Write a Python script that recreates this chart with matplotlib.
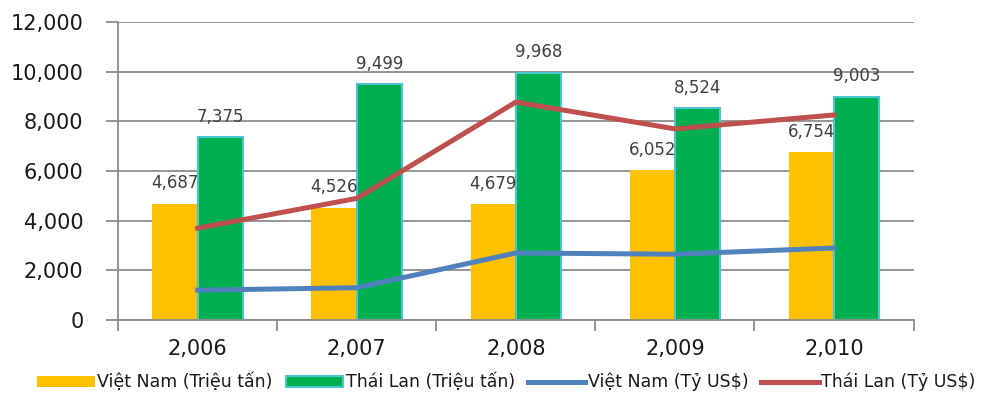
import matplotlib
matplotlib.use("Agg")
import matplotlib.pyplot as plt
import numpy as np
from matplotlib.ticker import FuncFormatter, FixedLocator

# Data
years = ["2,006", "2,007", "2,008", "2,009", "2,010"]
vn_tons = [4687, 4526, 4679, 6052, 6754]
th_tons = [7375, 9499, 9968, 8524, 9003]
vn_usd = [1200, 1300, 2700, 2650, 2900]
th_usd = [3700, 4900, 8780, 7700, 8260]

labels = ["Việt Nam (Triệu tấn)", "Thái Lan (Triệu tấn)",
          "Việt Nam (Tỷ US$)", "Thái Lan (Tỷ US$)"]

plt.rcParams['font.family'] = ['DejaVu Sans']

fig = plt.figure(figsize=(9.93, 3.96), dpi=100)
ax = fig.add_axes([0.119, 0.192, 0.801, 0.752])

x = np.arange(len(years))
w = 0.285

b1 = ax.bar(x - w / 2, vn_tons, width=w, color="#FFC000", zorder=2, label=labels[0])
b2 = ax.bar(x + w / 2, th_tons, width=w, color="#00B050", edgecolor="#4BC6D0",
            linewidth=1.5, zorder=2, label=labels[1])
l1, = ax.plot(x, vn_usd, color="#4F81BD", lw=3.6, zorder=3, label=labels[2])
l2, = ax.plot(x, th_usd, color="#C0504D", lw=3.6, zorder=3, label=labels[3])

for xi, v in zip(x - w / 2, vn_tons):
    ax.text(xi, v + 450, f"{v:,}", ha="center", va="bottom", fontsize=12, color="#404040", zorder=4)
for xi, v in zip(x + w / 2, th_tons):
    ax.text(xi, v + 450, f"{v:,}", ha="center", va="bottom", fontsize=12, color="#404040", zorder=4)

ax.set_xlim(-0.5, len(years) - 0.5)
ax.set_ylim(0, 12000)
ax.set_yticks(np.arange(0, 12001, 2000))
ax.yaxis.set_major_formatter(FuncFormatter(lambda v, p: f"{int(v):,}"))
ax.grid(axis="y", color="#8C8C8C", lw=1.3, zorder=0)

ax.set_xticks(x)
ax.set_xticklabels(years)
ax.xaxis.set_minor_locator(FixedLocator(np.arange(-0.5, len(years), 1.0)))
ax.tick_params(axis="x", which="major", length=0, pad=14, labelsize=15, labelcolor="#1A1A1A")
ax.tick_params(axis="x", which="minor", length=8, width=1.3, color="#8C8C8C")
ax.tick_params(axis="y", length=9, width=1.3, color="#8C8C8C", labelsize=15,
               labelcolor="#1A1A1A", pad=16)

for s in ["top", "right"]:
    ax.spines[s].set_visible(False)
for s in ["left", "bottom"]:
    ax.spines[s].set_color("#8C8C8C")
    ax.spines[s].set_linewidth(1.3)

fig.legend(handles=[b1, b2, l1, l2], labels=labels, loc="center", ncol=4,
           bbox_to_anchor=(0.51, 0.035), frameon=False, fontsize=12.5,
           handlelength=3.3, handleheight=0.6, handletextpad=0.15,
           columnspacing=0.75, labelcolor="#1A1A1A")

fig.savefig("out.png", dpi=100)
